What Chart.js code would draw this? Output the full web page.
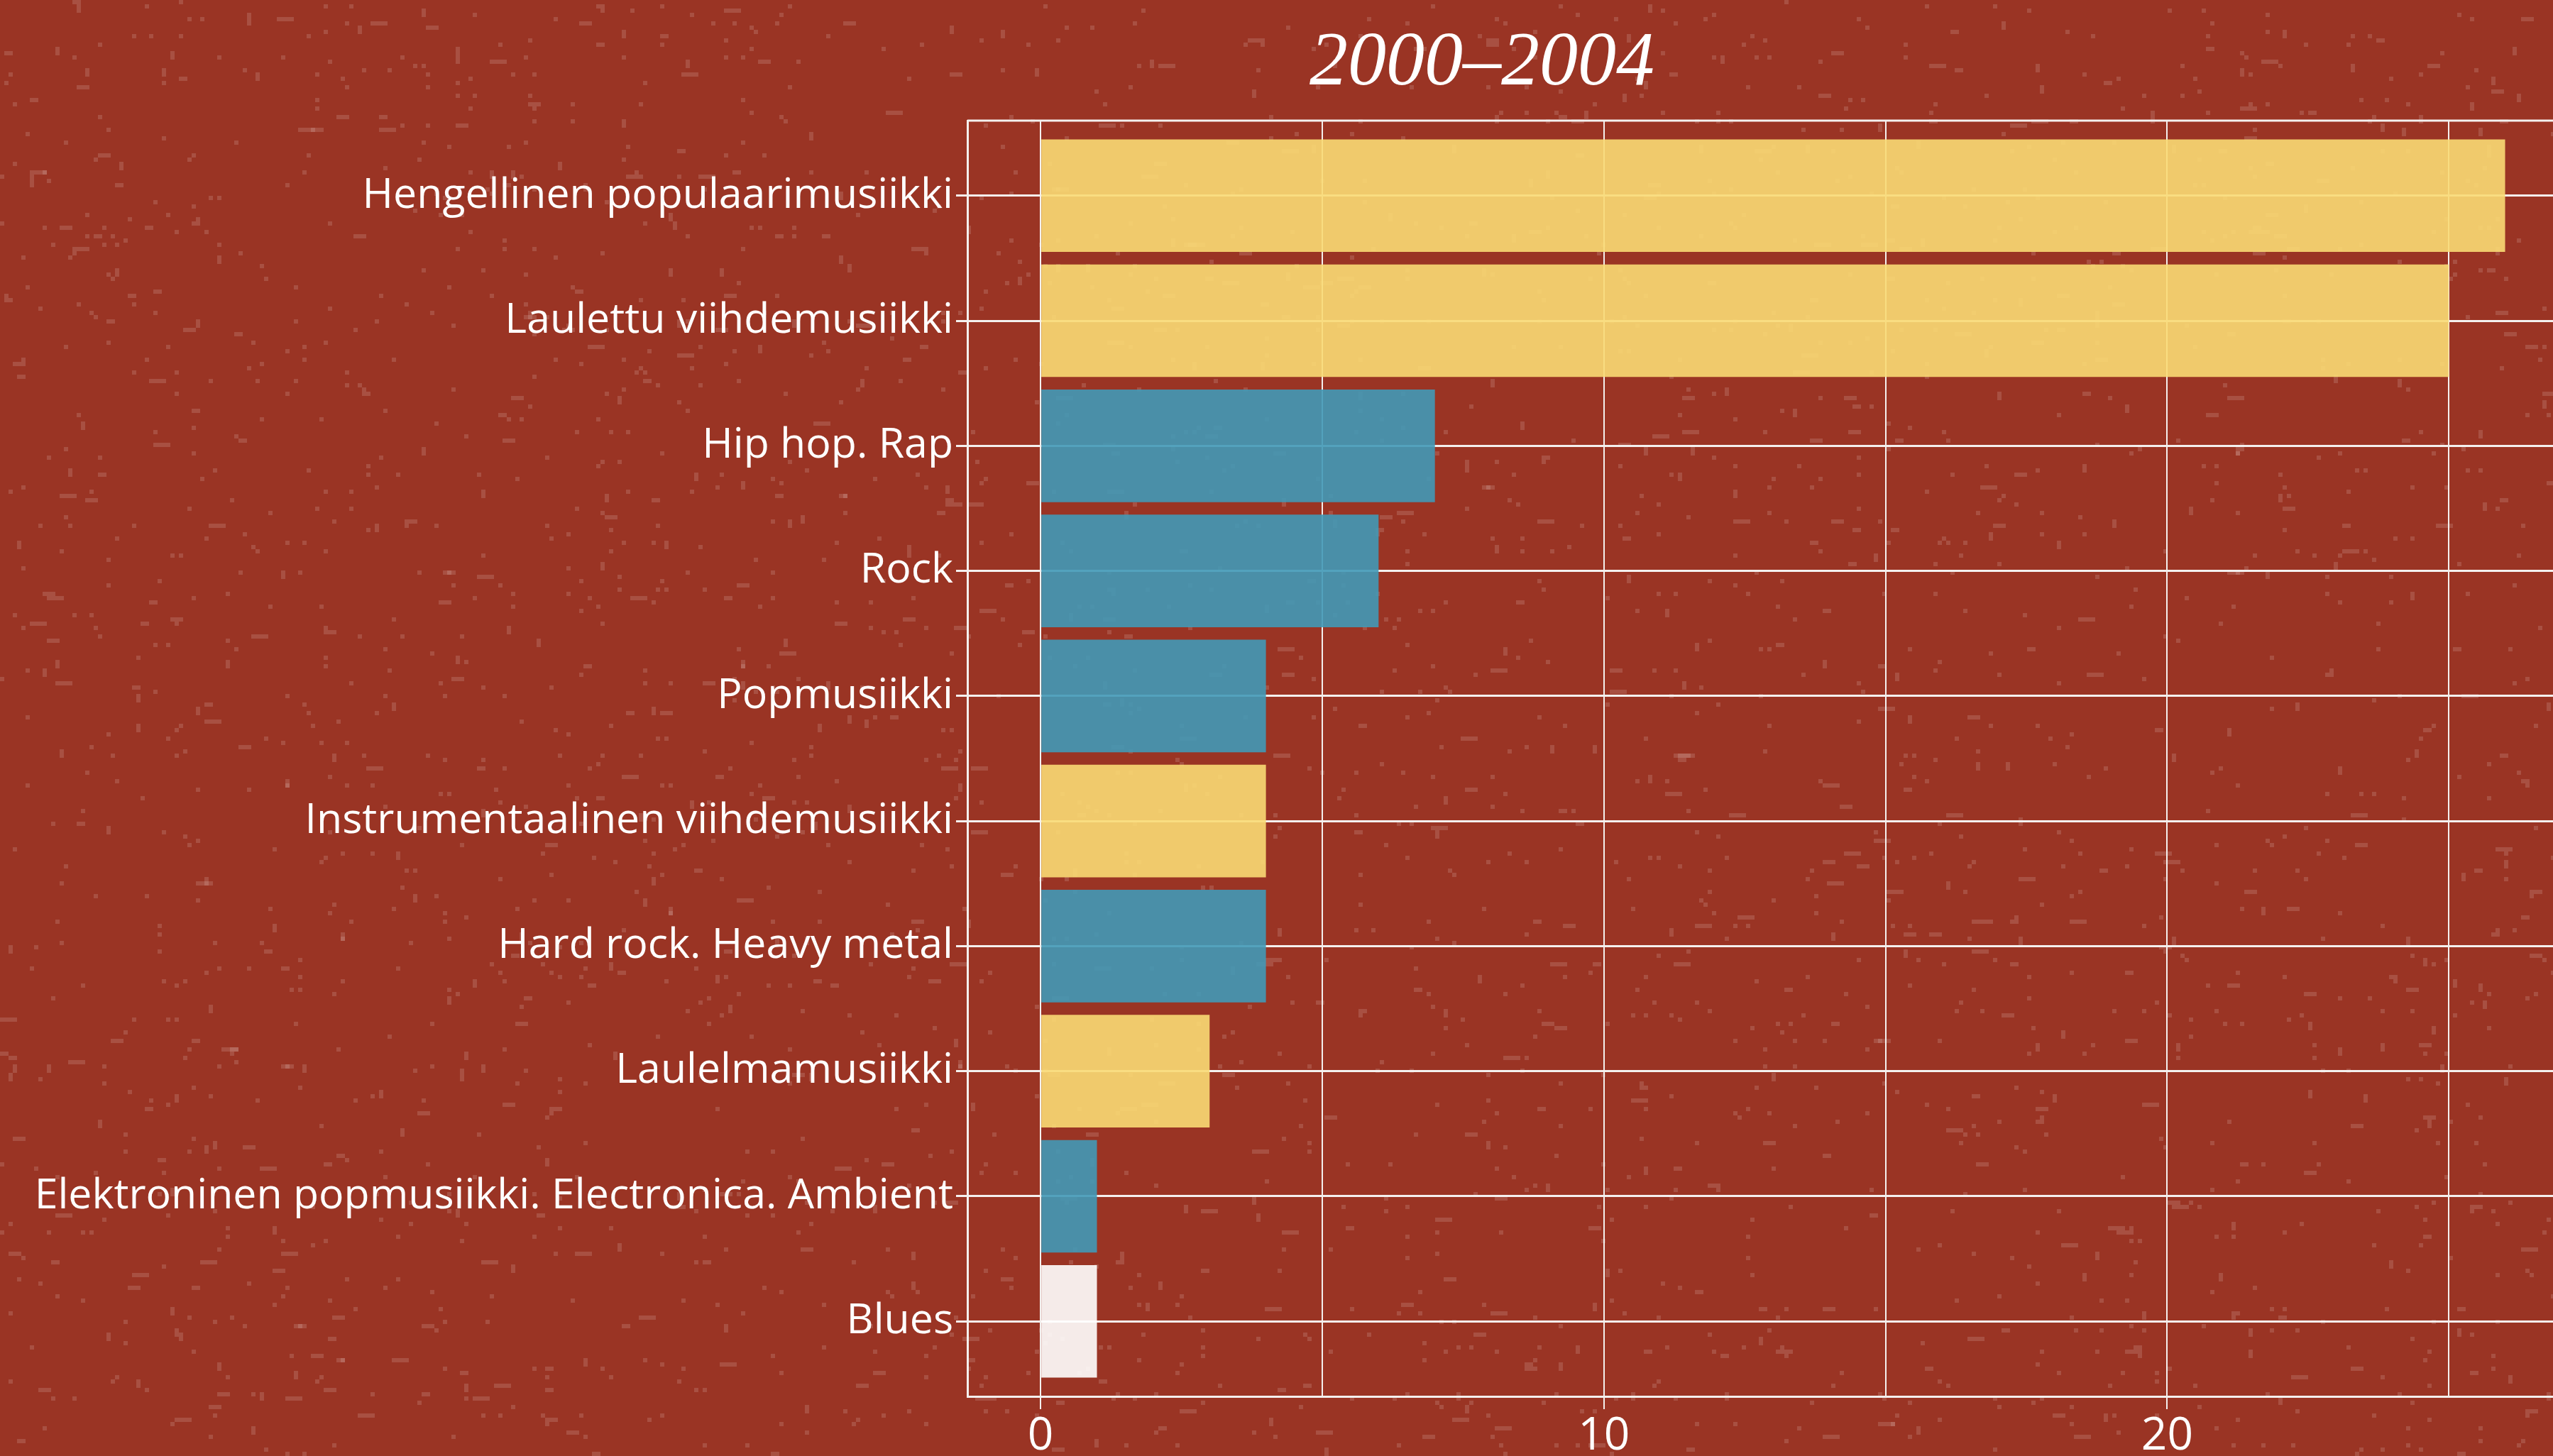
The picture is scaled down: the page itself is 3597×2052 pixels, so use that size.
<!DOCTYPE html>
<html>
<head>
<meta charset="utf-8">
<title>2000–2004</title>
<script src="https://cdn.jsdelivr.net/npm/chart.js@4/dist/chart.umd.min.js"></script>
<style>
  html, body { margin: 0; padding: 0; background: #9a3424; overflow: hidden; }
  canvas { display: block; }
</style>
</head>
<body>
<canvas id="genreChart" width="3597" height="2052"></canvas>
<script>
// genres, number of titles and colour group
const categories = [
    'Hengellinen populaarimusiikki',
    'Laulettu viihdemusiikki',
    'Hip hop. Rap',
    'Rock',
    'Popmusiikki',
    'Instrumentaalinen viihdemusiikki',
    'Hard rock. Heavy metal',
    'Laulelmamusiikki',
    'Elektroninen popmusiikki. Electronica. Ambient',
    'Blues'
];
const counts = [26, 25, 7, 6, 4, 4, 4, 3, 1, 1];
const groups = ['viihde', 'viihde', 'pop', 'pop', 'pop', 'viihde', 'pop', 'viihde', 'pop', 'muu'];
const xTicks = [0, 5, 10, 15, 20, 25];
const chartTitle = '2000–2004';

const groupColors = {
    viihde: 'rgba(250, 218, 116, 0.9)',
    pop: 'rgba(65, 153, 183, 0.9)',
    muu: 'rgba(255, 255, 255, 0.9)'
};
const BG = '#9a3424';
const LINE = '#f4f0ee';
const LABEL_FONT = '"Open Sans", "Noto Sans", sans-serif';

// speckled paper background, built once
function makeTexture(w, h) {
    const c = document.createElement('canvas');
    c.width = w; c.height = h;
    const g = c.getContext('2d');
    g.fillStyle = BG;
    g.fillRect(0, 0, w, h);
    let seed = 20002004;
    const rnd = () => (seed = (seed * 1664525 + 1013904223) >>> 0) / 4294967296;
    const cell = 6;
    g.fillStyle = 'rgba(255, 255, 255, 0.14)';
    for (let y = 0; y < h; y += cell) {
        for (let x = 0; x < w; x += cell) {
            const r = rnd();
            if (r < 0.012) {
                g.fillRect(x, y, cell, cell);
            } else if (r < 0.0145) {
                g.fillRect(x, y, cell * (2 + Math.floor(rnd() * 3)), cell);
            } else if (r < 0.016) {
                g.fillRect(x, y, cell, cell * 2);
            }
        }
    }
    return c;
}

const backdrop = {
    id: 'backdrop',
    beforeDraw(chart) {
        if (!chart.$texture) chart.$texture = makeTexture(chart.width, chart.height);
        chart.ctx.drawImage(chart.$texture, 0, 0);
    },
    afterDraw(chart) {
        const { ctx, chartArea } = chart;
        ctx.save();
        // top edge of the plot frame
        ctx.strokeStyle = LINE;
        ctx.lineWidth = 3;
        ctx.beginPath();
        ctx.moveTo(chartArea.left, chartArea.top);
        ctx.lineTo(chartArea.right, chartArea.top);
        ctx.stroke();
        // period title
        ctx.fillStyle = '#ffffff';
        ctx.font = 'italic 108px "Liberation Serif", "DejaVu Serif", serif';
        ctx.textAlign = 'center';
        ctx.textBaseline = 'alphabetic';
        ctx.fillText(chartTitle, 2088, 119);
        ctx.restore();
    }
};

const ctx = document.getElementById('genreChart').getContext('2d');

new Chart(ctx, {
    type: 'bar',
    data: {
        datasets: [{
            data: counts.map((v, i) => ({ x: v, y: i })),
            backgroundColor: groups.map(g => groupColors[g]),
            borderWidth: 0,
            barPercentage: 0.9,
            categoryPercentage: 1
        }]
    },
    options: {
        indexAxis: 'y',
        responsive: false,
        animation: false,
        devicePixelRatio: 1,
        layout: { padding: { top: 170, left: 0, right: 0, bottom: 0 } },
        plugins: {
            legend: { display: false },
            tooltip: { enabled: false },
            title: { display: false }
        },
        scales: {
            y: {
                type: 'linear',
                reverse: true,
                offset: false,
                min: -0.6,
                max: 9.6,
                afterBuildTicks: scale => { scale.ticks = categories.map((_, i) => ({ value: i })); },
                afterFit: scale => { scale.width = 1363; },
                ticks: {
                    color: '#ffffff',
                    font: { family: LABEL_FONT, size: 59 },
                    padding: 4,
                    callback: v => categories[v]
                },
                grid: {
                    offset: false,
                    color: LINE,
                    lineWidth: 3,
                    tickLength: 16,
                    tickColor: LINE
                },
                border: { display: true, color: LINE, width: 3 }
            },
            x: {
                type: 'linear',
                min: -1.3,
                max: 26.85,
                afterBuildTicks: scale => { scale.ticks = xTicks.map(v => ({ value: v })); },
                afterFit: scale => { scale.height = 84; },
                ticks: {
                    color: '#ffffff',
                    font: { family: LABEL_FONT, size: 64 },
                    padding: 0,
                    maxRotation: 0,
                    callback: v => (v % 10 === 0 ? String(v) : '')
                },
                grid: {
                    color: LINE,
                    lineWidth: 2,
                    tickLength: 18,
                    tickColor: c => (c.tick && c.tick.value % 10 === 0 ? LINE : 'rgba(0,0,0,0)')
                },
                border: { display: true, color: LINE, width: 3 }
            }
        }
    },
    plugins: [backdrop]
});
</script>
</body>
</html>
